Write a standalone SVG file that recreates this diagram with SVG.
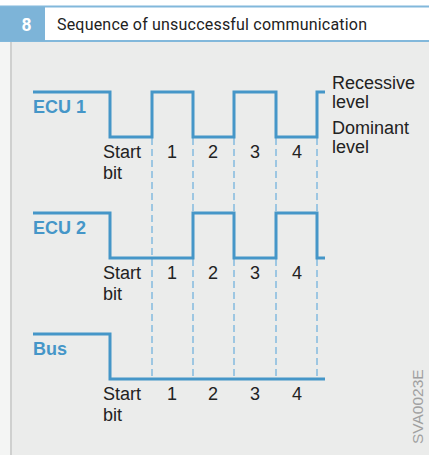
<svg xmlns="http://www.w3.org/2000/svg" width="429" height="455" viewBox="0 0 429 455">
<style>
.wave{fill:none;stroke:#4596c8;stroke-width:3;stroke-linejoin:miter;stroke-linecap:butt}
.dash{fill:none;stroke:#6aaedc;stroke-width:1.2;stroke-dasharray:7 4}
.lbl{font-family:"Liberation Sans",Arial,sans-serif;font-size:18px;font-weight:bold;fill:#4596c8}
.t{font-family:"Liberation Sans",Arial,sans-serif;font-size:18px;fill:#222}
.n{font-family:"Liberation Sans",Arial,sans-serif;font-size:18px;fill:#222;text-anchor:middle}
</style>
<rect x="0" y="0" width="429" height="455" fill="#ffffff"/>
<g id="frame">
<rect x="0" y="41" width="429" height="414" fill="#f4f5f4"/>
<rect x="10" y="41" width="419" height="414" fill="#ebeceb"/>
<rect x="10" y="41" width="2" height="414" fill="#cfd0cf"/>
<rect x="0" y="5.5" width="429" height="2" fill="#82b8db"/>
<rect x="0" y="40" width="429" height="2" fill="#82b8db"/>
<rect x="0" y="7" width="45" height="34" fill="#7db4d8"/>
<text x="26.5" y="30.5" font-family="Roboto,'Liberation Sans',sans-serif" font-size="17.5" font-weight="bold" fill="#ffffff" text-anchor="middle">8</text>
<text x="57" y="29.5" font-family="Roboto,'Liberation Sans',sans-serif" font-size="16" fill="#222" textLength="310" lengthAdjust="spacing">Sequence of unsuccessful communication</text>
</g>
<g id="connectors">
<line class="dash" x1="152" y1="138" x2="152" y2="379"/>
<line class="dash" x1="193" y1="138" x2="193" y2="379"/>
<line class="dash" x1="234" y1="138" x2="234" y2="379"/>
<line class="dash" x1="276" y1="138" x2="276" y2="379"/>
<line class="dash" x1="317" y1="138" x2="317" y2="379"/>
</g>
<g id="ecu1">
<path class="wave" d="M33 92H110V137H152V92H193V137H234V92H276V137H317V92H325"/>
<text class="lbl" x="33" y="113">ECU 1</text>
<text class="t" x="103" y="158">Start</text>
<text class="t" x="103" y="179">bit</text>
<text class="n" x="172" y="158">1</text>
<text class="n" x="213" y="158">2</text>
<text class="n" x="255" y="158">3</text>
<text class="n" x="297" y="158">4</text>
</g>
<g id="levels">
<text class="t" x="332" y="89">Recessive</text>
<text class="t" x="332" y="108">level</text>
<text class="t" x="332" y="134">Dominant</text>
<text class="t" x="332" y="153">level</text>
</g>
<g id="ecu2">
<path class="wave" d="M33 213H110V258H193V213H234V258H276V213H317V258H325"/>
<text class="lbl" x="33" y="234">ECU 2</text>
<text class="t" x="103" y="279">Start</text>
<text class="t" x="103" y="300">bit</text>
<text class="n" x="172" y="279">1</text>
<text class="n" x="213" y="279">2</text>
<text class="n" x="255" y="279">3</text>
<text class="n" x="297" y="279">4</text>
</g>
<g id="bus">
<path class="wave" d="M33 334H110V379H325"/>
<text class="lbl" x="33" y="355">Bus</text>
<text class="t" x="103" y="400">Start</text>
<text class="t" x="103" y="421">bit</text>
<text class="n" x="172" y="400">1</text>
<text class="n" x="213" y="400">2</text>
<text class="n" x="255" y="400">3</text>
<text class="n" x="297" y="400">4</text>
</g>
<text x="0" y="0" transform="translate(423 444) rotate(-90)" font-family="'Liberation Sans',Arial,sans-serif" font-size="15.5" fill="#a0a0a0">SVA0023E</text>
</svg>
